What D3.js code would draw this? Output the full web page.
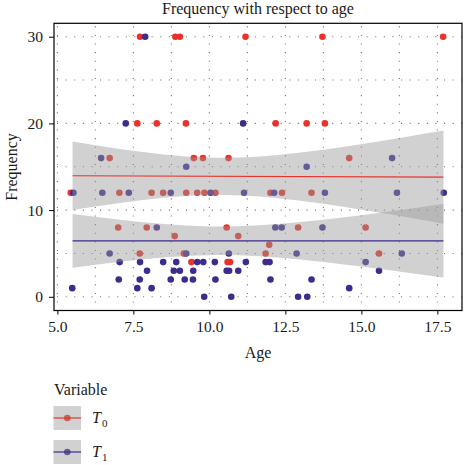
<!DOCTYPE html>
<html><head><meta charset="utf-8">
<script src="https://cdn.jsdelivr.net/npm/d3@7"></script>
<style>
body{margin:0;background:#fff}
text{font-family:"Liberation Serif","DejaVu Serif",serif;fill:#1a1a1a}
</style>
</head><body>
<svg id="c" width="464" height="465"></svg>
<script>
// ---- data ----
const t0Age  = [7.72, 8.88, 9.03, 11.19, 13.72, 17.69,
                7.63, 8.27, 9.23, 12.18, 13.20, 13.80,
                6.72, 9.49, 9.79, 10.63, 14.60,
                5.44, 7.04, 8.10, 8.48, 9.24, 9.60, 9.84, 10.20, 12.01, 12.39, 13.36,
                7.00, 7.94, 10.57, 12.92, 15.14,
                8.86, 10.95,
                11.97,
                7.71, 9.16, 11.85, 15.58,
                9.41, 10.60, 10.68];
const t0Freq = [30, 30, 30, 30, 30, 30,
                20, 20, 20, 20, 20, 20,
                16, 16, 16, 16, 16,
                12, 12, 12, 12, 12, 12, 12, 12, 12, 12, 12,
                8, 8, 8, 8, 8,
                7, 7,
                6,
                5, 5, 5, 5,
                4, 4, 4];
const t1Age  = [7.89,
                7.25, 11.11,
                6.44, 16.01,
                9.24, 13.20,
                5.53, 6.48, 7.35, 8.73, 10.04, 11.14, 12.13, 13.80, 16.17, 17.71,
                8.27, 12.17, 12.38, 13.72,
                6.72, 9.24, 10.64, 12.87, 16.33,
                7.05, 7.72, 8.48, 8.91, 9.60, 9.80, 10.18, 11.20, 11.85, 11.98, 15.14,
                7.95, 8.83, 9.03, 9.47, 10.57, 10.65, 10.95, 15.58,
                7.02, 7.71, 8.73, 9.19, 9.46, 10.20, 12.01, 13.36,
                5.49, 7.63, 8.10, 14.60,
                9.83, 10.72, 12.92, 13.22];
const t1Freq = [30,
                20, 20,
                16, 16,
                15, 15,
                12, 12, 12, 12, 12, 12, 12, 12, 12, 12,
                8, 8, 8, 8,
                5, 5, 5, 5, 5,
                4, 4, 4, 4, 4, 4, 4, 4, 4, 4, 4,
                3, 3, 3, 3, 3, 3, 3, 3,
                2, 2, 2, 2, 2, 2, 2, 2,
                1, 1, 1, 1,
                0, 0, 0, 0];

// fitted lines and confidence bands
const lineAges = [5.5, 17.7];
const t0Line   = [13.96, 13.80];
const t1Line   = [6.46, 6.46];
const bandAges = [5.5, 7, 8.5, 10, 11.5, 13, 14.5, 16, 17.7];
const t0Upper  = [17.90, 17.08, 16.42, 16.06, 16.15, 16.63, 17.34, 18.16, 19.17];
const t0Lower  = [10.02, 10.80, 11.42, 11.74, 11.61, 11.09, 10.34, 9.48, 8.43];
const t1Upper  = [9.56, 8.92, 8.40, 8.12, 8.21, 8.62, 9.21, 9.88, 10.70];
const t1Lower  = [3.36, 4.00, 4.52, 4.80, 4.71, 4.30, 3.71, 3.04, 2.22];

const xTicks = [5, 7.5, 10, 12.5, 15, 17.5];
const xMinor = [6.25, 8.75, 11.25, 13.75, 16.25];
const yTicks = [0, 10, 20, 30];
const yMinor = [5, 15, 25];
const seriesNames = ["T0", "T1"];

// ---- drawing ----
const RED = "#E8322A", BLUE = "#3D2B8E";
const svg = d3.select("#c");
const L = 54, R = 462, T = 23.3, B = 310.5;
const x = d3.scaleLinear().domain([4.89, 18.31]).range([L, R]);
const y = d3.scaleLinear().domain([-1.5, 31.5]).range([309.8, 23.7]);

// title
svg.append("text").attr("x", 258).attr("y", 14).attr("text-anchor", "middle")
  .attr("font-size", 16).text("Frequency with respect to age");

// grid
const grid = svg.append("g").attr("stroke", "#777").attr("stroke-width", 1.1)
  .attr("stroke-dasharray", "1.1,7.5");
xTicks.concat(xMinor).forEach(v => grid.append("line")
  .attr("x1", x(v)).attr("x2", x(v)).attr("y1", T + 3).attr("y2", B));
yTicks.concat(yMinor).forEach(v => grid.append("line")
  .attr("y1", y(v)).attr("y2", y(v)).attr("x1", L + 3).attr("x2", R));

// points
const pts = svg.append("g");
t0Age.forEach((a, i) => pts.append("circle").attr("cx", x(a)).attr("cy", y(t0Freq[i]))
  .attr("r", 3.3).attr("fill", RED));
t1Age.forEach((a, i) => pts.append("circle").attr("cx", x(a)).attr("cy", y(t1Freq[i]))
  .attr("r", 3.3).attr("fill", BLUE));

// bands + lines
const area = d3.area().curve(d3.curveNatural)
  .x(d => x(d[0])).y0(d => y(d[1])).y1(d => y(d[2]));
const line = d3.line().x(d => x(d[0])).y(d => y(d[1]));
[[t0Upper, t0Lower, t0Line, RED], [t1Upper, t1Lower, t1Line, BLUE]].forEach(([u, lo, ln, col]) => {
  svg.append("path").datum(bandAges.map((a, i) => [a, lo[i], u[i]]))
    .attr("d", area).attr("fill", "#999").attr("fill-opacity", 0.45);
  svg.append("path").datum(lineAges.map((a, i) => [a, ln[i]]))
    .attr("d", line).attr("stroke", col).attr("stroke-width", 1.2).attr("fill", "none");
});

// panel border
svg.append("rect").attr("x", L).attr("y", T).attr("width", R - L).attr("height", B - T)
  .attr("fill", "none").attr("stroke", "#000").attr("stroke-width", 1.2);

// axes
const xAxis = d3.axisBottom(x).tickValues(xTicks).tickFormat(d3.format(".1f")).tickSize(4).tickPadding(6);
const gx = svg.append("g").attr("transform", `translate(0,${B})`).call(xAxis);
gx.select(".domain").remove();
gx.selectAll("text").attr("font-size", 15.5).attr("font-family", "Liberation Serif").attr("fill", "#1a1a1a");
gx.selectAll("line").attr("stroke", "#000");

const yAxis = d3.axisLeft(y).tickValues(yTicks).tickSize(5).tickPadding(6);
const gy = svg.append("g").attr("transform", `translate(${L},0)`).call(yAxis);
gy.select(".domain").remove();
gy.selectAll("text").attr("font-size", 15.5).attr("font-family", "Liberation Serif").attr("fill", "#1a1a1a");
gy.selectAll("line").attr("stroke", "#000");

// axis titles
svg.append("text").attr("x", 258).attr("y", 358).attr("text-anchor", "middle")
  .attr("font-size", 16).text("Age");
svg.append("text").attr("transform", "translate(17,167) rotate(-90)").attr("text-anchor", "middle")
  .attr("font-size", 16).text("Frequency");

// legend
svg.append("text").attr("x", 54).attr("y", 395).attr("font-size", 16).text("Variable");
[[RED, 406], [BLUE, 440]].forEach(([col, ky], i) => {
  const g = svg.append("g");
  g.append("rect").attr("x", 53.5).attr("y", ky).attr("width", 27.5).attr("height", 24).attr("fill", "#fff");
  g.append("circle").attr("cx", 67.3).attr("cy", ky + 12).attr("r", 3.3).attr("fill", col);
  g.append("rect").attr("x", 53.5).attr("y", ky).attr("width", 27.5).attr("height", 24)
    .attr("fill", "#999").attr("fill-opacity", 0.45);
  g.append("line").attr("x1", 53.5).attr("x2", 81).attr("y1", ky + 12).attr("y2", ky + 12)
    .attr("stroke", col).attr("stroke-width", 1.2);
  const t = svg.append("text").attr("x", 92).attr("y", ky + 17).attr("font-size", 16);
  t.append("tspan").attr("font-style", "italic").text(seriesNames[i].charAt(0));
  t.append("tspan").attr("font-size", 11).attr("dy", 4).attr("dx", 1).text(seriesNames[i].slice(1));
});
</script>
</body></html>
